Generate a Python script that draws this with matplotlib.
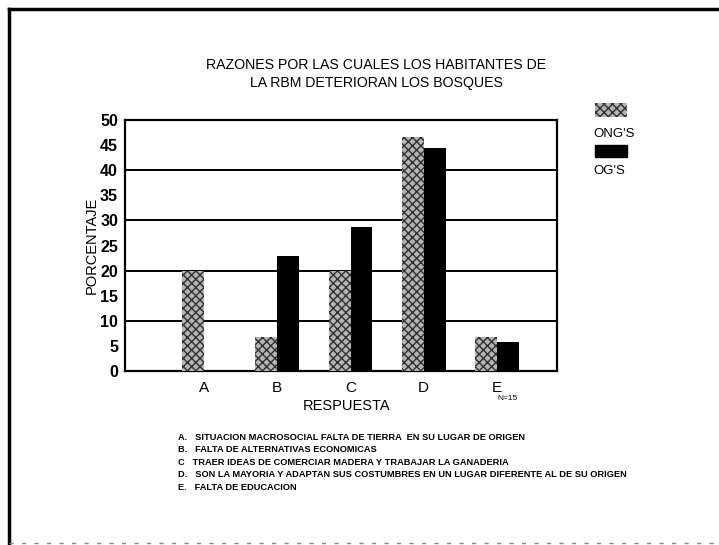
import matplotlib
matplotlib.use("Agg")
import matplotlib.pyplot as plt
import matplotlib.patches as mpatches
from matplotlib.lines import Line2D
import numpy as np

categories = ["A", "B", "C", "D", "E"]
ong_values = [20.0, 6.7, 20.0, 46.7, 6.7]
og_values = [0.0, 22.9, 28.6, 44.4, 5.7]
series_names = ["ONG'S", "OG'S"]
y_ticks = [0, 5, 10, 15, 20, 25, 30, 35, 40, 45, 50]
grid_levels = [10, 20, 30, 40, 50]
title = "RAZONES POR LAS CUALES LOS HABITANTES DE\nLA RBM DETERIORAN LOS BOSQUES"
notes = [
    "A.   SITUACION MACROSOCIAL FALTA DE TIERRA  EN SU LUGAR DE ORIGEN",
    "B.   FALTA DE ALTERNATIVAS ECONOMICAS",
    "C   TRAER IDEAS DE COMERCIAR MADERA Y TRABAJAR LA GANADERIA",
    "D.   SON LA MAYORIA Y ADAPTAN SUS COSTUMBRES EN UN LUGAR DIFERENTE AL DE SU ORIGEN",
    "E.   FALTA DE EDUCACION",
]

FONT = ["Liberation Sans", "DejaVu Sans"]
plt.rcParams["font.family"] = FONT
plt.rcParams["hatch.linewidth"] = 1.0

W, H = 719, 545
fig = plt.figure(figsize=(W / 100, H / 100), dpi=100)

def fx(px):
    return px / W

def fy(py):
    return 1 - py / H

ax = fig.add_axes([fx(125), fy(371), fx(557) - fx(125), fy(120) - fy(371)])

x = np.arange(1, len(categories) + 1)
bw = 0.30
ong_style = dict(facecolor="#b4b4b4", edgecolor="#303030", hatch="xxxx", linewidth=0)
ax.bar(x - bw / 2, ong_values, width=bw, zorder=3, **ong_style)
ax.bar(x + bw / 2, og_values, width=bw, color="black", zorder=3)

for g in grid_levels:
    ax.axhline(g, color="black", linewidth=1.4, zorder=1)

ax.set_xlim(-0.08, 5.82)
ax.set_ylim(0, 50)
ax.set_yticks(y_ticks)
ax.set_yticklabels([str(t) for t in y_ticks], fontsize=11.5, fontweight="bold")
ax.set_xticks(x)
ax.set_xticklabels(categories, fontsize=11)
ax.tick_params(axis="y", length=0, pad=5)
ax.tick_params(axis="x", length=0, pad=7)
for s in ax.spines.values():
    s.set_linewidth(1.6)
    s.set_color("black")

ax.set_ylabel("PORCENTAJE", fontsize=10.5, labelpad=1)
fig.text(fx(347), fy(406), "RESPUESTA", ha="center", va="center", fontsize=10.5)
fig.text(fx(508), fy(399), "N=15", ha="center", va="center", fontsize=6)

fig.text(fx(376), fy(74), title, ha="center", va="center", fontsize=10.2,
         linespacing=1.3)

# legend (manual)
fig.patches.append(mpatches.Rectangle((fx(595), fy(117)), fx(627) - fx(595), fy(103) - fy(117),
                                      transform=fig.transFigure, figure=fig, **ong_style))
fig.text(fx(593), fy(134), series_names[0], ha="left", va="center", fontsize=9.5)
fig.patches.append(mpatches.Rectangle((fx(595), fy(157)), fx(627) - fx(595), fy(145) - fy(157),
                                      transform=fig.transFigure, figure=fig, color="black"))
fig.text(fx(593), fy(171), series_names[1], ha="left", va="center", fontsize=9.5)

# notes
for i, line in enumerate(notes):
    fig.text(fx(178), fy(437 + i * 12.6), line, ha="left", va="center", fontsize=6.7,
             fontweight="bold")

# page border
fig.add_artist(Line2D([fx(9), fx(719)], [fy(9), fy(9)], transform=fig.transFigure,
                      color="black", linewidth=2.5))
fig.add_artist(Line2D([fx(9), fx(9)], [fy(9), fy(543)], transform=fig.transFigure,
                      color="black", linewidth=2.5))
fig.add_artist(Line2D([fx(9), fx(719)], [fy(543), fy(543)], transform=fig.transFigure,
                      color="#888888", linewidth=1, linestyle=(0, (3, 6))))

fig.savefig("out.png", dpi=100)
